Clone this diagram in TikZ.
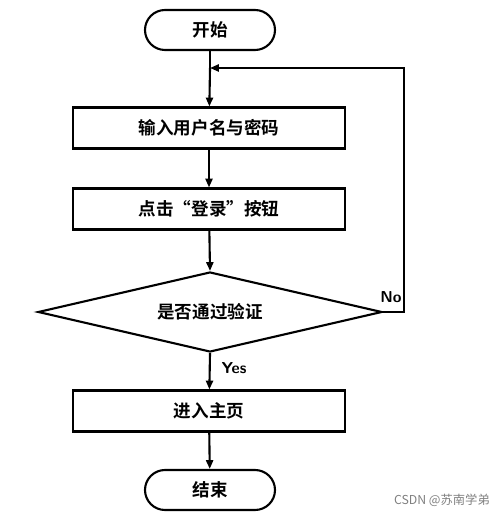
\documentclass[tikz,border=0pt]{standalone}
\usepackage{fontspec}
\newfontfamily\cjk{Noto Sans CJK SC}[BoldFont={Noto Sans CJK SC Bold}]
\usetikzlibrary{shapes.geometric,arrows.meta}
\begin{document}
\begin{tikzpicture}[x=0.02cm,y=-0.02cm,
 box/.style={draw,line width=1.2pt,minimum width=272*0.02cm,minimum height=41*0.02cm,font=\cjk\bfseries\fontsize{10}{11}\selectfont},
 term/.style={box,rounded corners=20*0.02cm,minimum width=130*0.02cm,minimum height=40*0.02cm},
 dia/.style={draw,line width=1.2pt,diamond,aspect=4.3,minimum width=344*0.02cm,minimum height=80*0.02cm,inner sep=0pt,font=\cjk\bfseries\fontsize{10}{11}\selectfont},
 arr/.style={draw,line width=1.2pt,-{Triangle[length=5pt,width=4pt]}},
 lab/.style={font=\sffamily\bfseries\fontsize{9}{10}\selectfont}]
\useasboundingbox (0,0) rectangle (500,519);
\node[term] (s) at (210,30) {开始};
\node[box] (b1) at (209,128) {输入用户名与密码};
\node[box] (b2) at (209,209) {点击“登录”按钮};
\node[dia] (d) at (210,312) {是否通过验证};
\node[box] (b3) at (209,411) {进入主页};
\node[term] (e) at (210,490) {结束};
\coordinate (j) at (210,68);
\draw[line width=1.2pt] (s) -- (j);
\draw[arr] (j) -- (b1);
\draw[arr] (b1) -- (b2);
\draw[arr] (b2) -- (d.north);
\draw[arr] (d.south) -- (b3);
\draw[arr] (b3) -- (e);
\draw[arr] (d.east) -- (404,312) -- (404,68) -- (j);
\node[lab] (no) at (391,297) {No};
\node[lab] (yes) at (234,368) {Yes};
\node[font=\cjk\fontsize{7}{8}\selectfont,text=gray,anchor=east] (w) at (496,500) {CSDN @苏南学弟};
\end{tikzpicture}
\end{document}
